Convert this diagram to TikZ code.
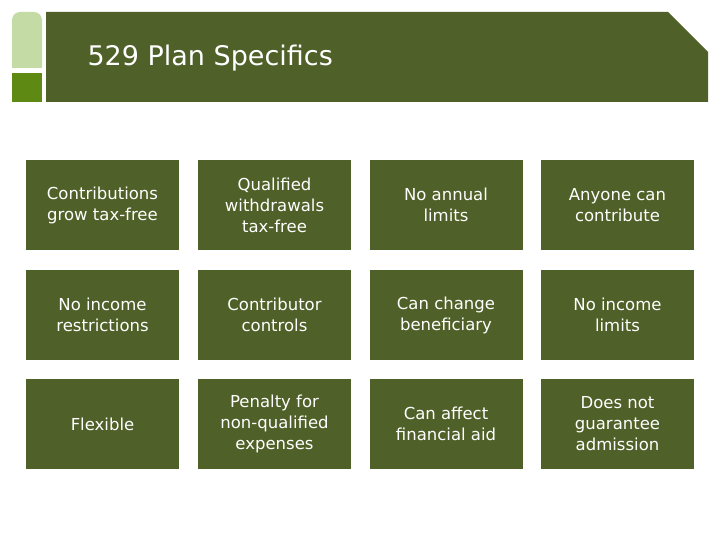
\documentclass[tikz,border=0pt]{standalone}
\usepackage{fontspec}
\setmainfont{DejaVu Sans}
\definecolor{dk}{HTML}{4F6028}
\definecolor{lt}{HTML}{C5DBA6}
\definecolor{md}{HTML}{5E8A14}
\begin{document}
\begin{tikzpicture}[x=1pt,y=-1pt,
  cell/.style={fill=dk,text=white,minimum width=153pt,minimum height=90pt,inner sep=0pt,align=center,font=\fontsize{16.5}{21}\selectfont}]
\useasboundingbox (0,0) rectangle (720,540);
\fill[lt,rounded corners=8pt] (12,68) -- (12,12) -- (42,12)[sharp corners] -- (42,68) -- cycle;
\fill[md] (12,73) rectangle (42,102);
\fill[dk] (46,12) -- (668,12) -- (708,52) -- (708,102) -- (46,102) -- cycle;
\node[text=white,anchor=west,font=\fontsize{27}{32}\selectfont] (title) at (84,58) {529 Plan Specifics};
\def\cx#1{\ifcase#1\or102.5\or274.5\or446\or617.5\fi}
\node[cell] (a1) at (102.5,205) {Contributions\\grow tax-free};
\node[cell] (a2) at (274.5,205) {Qualified\\withdrawals\\tax-free};
\node[cell] (a3) at (446,205) {No annual\\limits};
\node[cell] (a4) at (617.5,205) {Anyone can\\contribute};
\node[cell] (b1) at (102.5,315) {No income\\restrictions};
\node[cell] (b2) at (274.5,315) {Contributor\\controls};
\node[cell] (b3) at (446,315) {Can change\\beneficiary};
\node[cell] (b4) at (617.5,315) {No income\\limits};
\node[cell] (c1) at (102.5,424) {Flexible};
\node[cell] (c2) at (274.5,424) {Penalty for\\non-qualified\\expenses};
\node[cell] (c3) at (446,424) {Can affect\\financial aid};
\node[cell] (c4) at (617.5,424) {Does not\\guarantee\\admission};
\end{tikzpicture}
\end{document}
